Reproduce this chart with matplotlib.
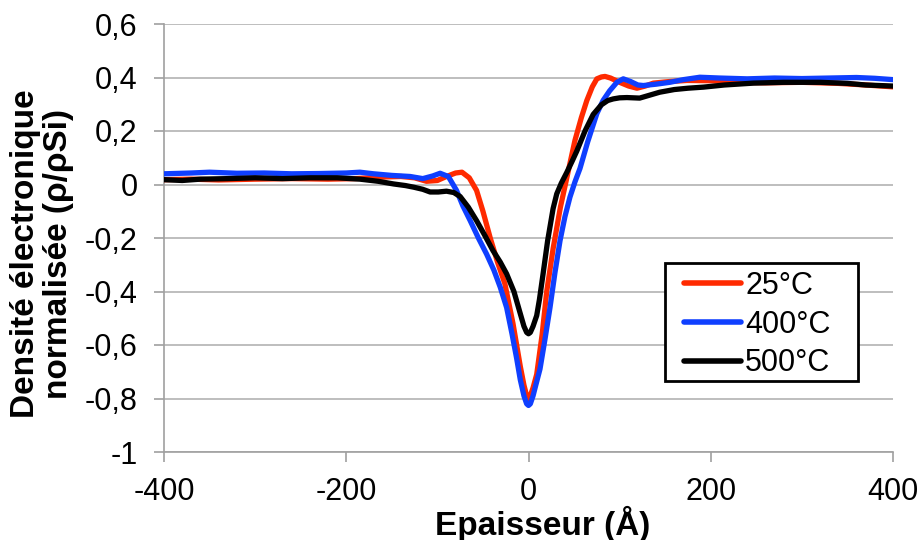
import matplotlib
matplotlib.use("Agg")
import matplotlib.pyplot as plt
from matplotlib.patches import Rectangle
import numpy as np

plt.rcParams['font.family'] = ['Liberation Sans', 'DejaVu Sans']

# --- data ---
x_25 = [-400, -370, -340, -300, -260, -220, -190, -160, -140, -125, -112, -100, -90, -80, -73,
        -65, -57, -50, -42, -34, -26, -17, -9, -5, -2, 0, 2, 5, 9, 15, 20, 27, 35, 43, 51, 58, 64,
        70, 75, 80, 84, 90, 100, 110, 119, 128, 137, 155, 174, 200, 230, 260, 300, 340, 370, 400]
y_25 = [0.018, 0.020, 0.017, 0.020, 0.022, 0.020, 0.022, 0.028, 0.030, 0.025, 0.012, 0.015, 0.030, 0.043, 0.046,
        0.025, -0.022, -0.10, -0.20, -0.29, -0.37, -0.52, -0.68, -0.75, -0.79, -0.80, -0.79, -0.76, -0.71, -0.56, -0.40, -0.24, -0.085, 0.04, 0.165, 0.25, 0.314,
        0.365, 0.395, 0.402, 0.404, 0.398, 0.382, 0.368, 0.360, 0.368, 0.379, 0.385, 0.389, 0.388, 0.382, 0.380, 0.382, 0.378, 0.372, 0.365]

x_400 = [-400, -370, -350, -320, -290, -260, -230, -200, -185, -170, -150, -130, -116, -105, -97,
         -88, -79, -72, -64, -55, -46, -38, -31, -24, -18, -13, -9, -5, -2, 0, 2, 5, 8, 12.6, 18, 23.6, 29, 34.6,
         40, 45.5, 51, 56.5, 65, 75, 82, 89, 97, 104, 112, 120, 126, 140, 155, 170, 188, 210,
         240, 270, 300, 330, 360, 380, 400]
y_400 = [0.040, 0.043, 0.046, 0.042, 0.043, 0.040, 0.041, 0.043, 0.046, 0.040, 0.034, 0.030, 0.022, 0.032, 0.042,
         0.030, -0.022, -0.08, -0.135, -0.20, -0.26, -0.32, -0.384, -0.46, -0.56, -0.65, -0.73, -0.79, -0.82, -0.826, -0.82, -0.79, -0.75, -0.69, -0.58, -0.46, -0.33, -0.21,
         -0.12, -0.047, 0.01, 0.06, 0.16, 0.265, 0.315, 0.35, 0.382, 0.395, 0.385, 0.372, 0.370, 0.375, 0.382, 0.392, 0.401, 0.398,
         0.395, 0.398, 0.396, 0.398, 0.400, 0.397, 0.392]

x_500 = [-400, -380, -360, -330, -300, -270, -240, -210, -185, -165, -148, -135, -126, -116, -108,
         -99, -90, -82, -75, -66, -57, -48, -39, -31, -24, -16, -9, -5, -2, 0, 2, 5, 9, 12, 16, 21, 27, 31,
         36, 42, 48, 53, 62, 71, 80, 87, 93, 100, 108, 115, 122, 132, 144, 160, 175, 192, 215, 247,
         280, 320, 350, 370, 385, 400]
y_500 = [0.018, 0.015, 0.020, 0.022, 0.025, 0.022, 0.025, 0.025, 0.020, 0.012, 0.002, -0.004, -0.010, -0.018, -0.028,
         -0.028, -0.025, -0.030, -0.045, -0.085, -0.135, -0.19, -0.247, -0.29, -0.334, -0.40, -0.483, -0.53, -0.553, -0.558, -0.553, -0.53, -0.49, -0.43, -0.334, -0.21, -0.09, -0.035,
         0.005, 0.045, 0.088, 0.125, 0.20, 0.262, 0.298, 0.314, 0.320, 0.324, 0.325, 0.324, 0.323, 0.333, 0.345, 0.355, 0.360, 0.364, 0.372, 0.379,
         0.382, 0.382, 0.378, 0.372, 0.370, 0.368]

labels = ['25°C', '400°C', '500°C']
colors = ['#ff2a00', '#0f3fff', '#000000']

xticks = [-400, -200, 0, 200, 400]
xtick_labels = ['-400', '-200', '0', '200', '400']
yticks = [-1.0, -0.8, -0.6, -0.4, -0.2, 0.0, 0.2, 0.4, 0.6]
ytick_labels = ['-1', '-0,8', '-0,6', '-0,4', '-0,2', '0', '0,2', '0,4', '0,6']

fig = plt.figure(figsize=(9.22, 5.40), dpi=100)
ax = fig.add_axes([164/922, 1-452/540, (893-164)/922, (452-24)/540])

for xs, ys, lab, c in zip([x_25, x_400, x_500], [y_25, y_400, y_500], labels, colors):
    ax.plot(xs, ys, color=c, lw=3.8, label=lab, solid_capstyle='round', solid_joinstyle='round', zorder=3)

ax.set_xlim(-400, 400)
ax.set_ylim(-1.0, 0.6)
ax.set_xticks(xticks)
ax.set_xticklabels(xtick_labels)
ax.set_yticks(yticks)
ax.set_yticklabels(ytick_labels)
ax.yaxis.grid(True, color='#b3b3b3', lw=1.2, zorder=0)
ax.set_axisbelow(True)
for s in ['top', 'right']:
    ax.spines[s].set_visible(False)
for s in ['left', 'bottom']:
    ax.spines[s].set_color('#a0a0a0')
    ax.spines[s].set_linewidth(1.2)
ax.tick_params(axis='both', direction='out', length=7, width=1.2, color='#a0a0a0',
               labelsize=22, labelcolor='black')
ax.tick_params(axis='x', pad=11)
ax.tick_params(axis='y', pad=12)

ax.set_xlabel('Epaisseur (Å)', fontsize=24, fontweight='bold')
ax.xaxis.set_label_coords(0.52, -0.125)
ax.set_ylabel('Densité électronique\nnormalisée (ρ/ρSi)', fontsize=24, fontweight='bold',
              linespacing=1.05)
ax.yaxis.set_label_coords(-0.124, 0.463)

# legend frame drawn as a rectangle in figure pixels
frame = Rectangle((665/922, 1-381/540), (858-665)/922, (381-263)/540,
                  transform=fig.transFigure, fill=True, facecolor='white',
                  edgecolor='black', lw=2.0, zorder=5, clip_on=False)
ax.add_artist(frame)
leg = ax.legend(loc='upper left', bbox_to_anchor=(678/922, 1-265/540), bbox_transform=fig.transFigure,
                fontsize=22, frameon=False, handlelength=1.85, handletextpad=0.15,
                borderpad=0.2, labelspacing=0.28, borderaxespad=0)
leg.set_zorder(6)
for h in leg.get_lines():
    h.set_linewidth(4.0)

fig.savefig('out.png', dpi=100)
